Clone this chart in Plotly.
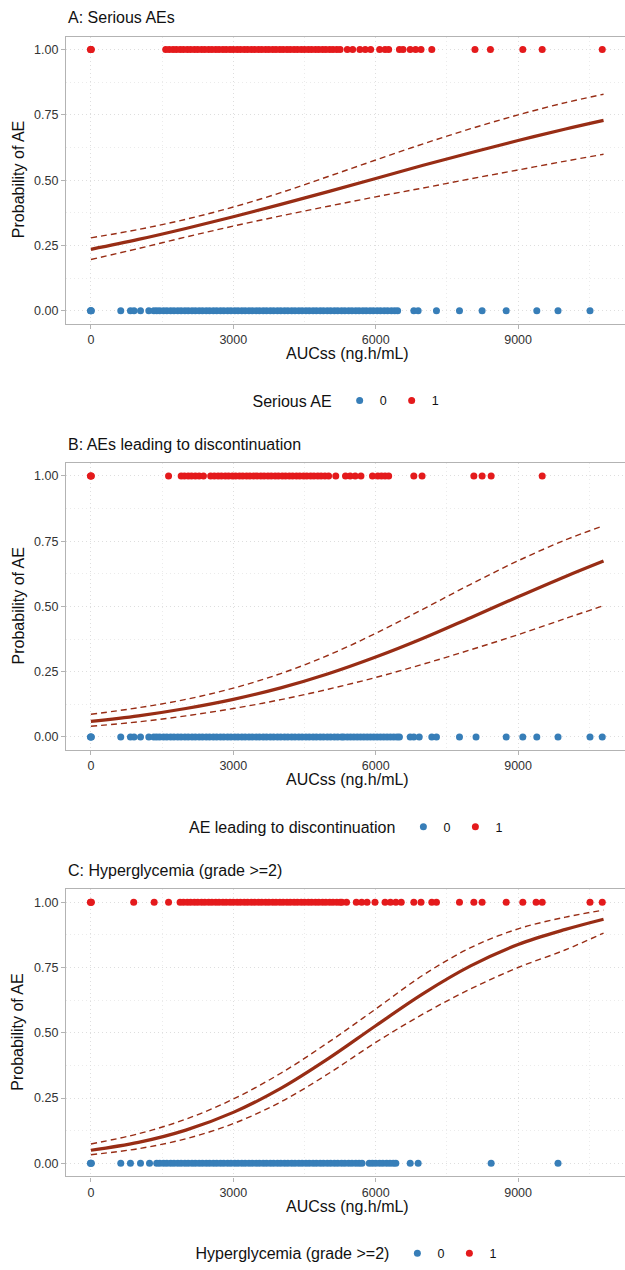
import plotly.graph_objects as go

# ---------------- data ----------------
curve_x = [0, 1000, 2000, 3000, 4000, 5000, 6000, 7000, 8000, 9000, 10000, 10800]

a_fit = [0.235, 0.273, 0.315, 0.360, 0.407, 0.456, 0.506, 0.557, 0.605, 0.652, 0.696, 0.729]
a_upper = [0.279, 0.311, 0.350, 0.397, 0.452, 0.514, 0.577, 0.639, 0.697, 0.750, 0.797, 0.829]
a_lower = [0.196, 0.238, 0.282, 0.324, 0.363, 0.400, 0.436, 0.470, 0.505, 0.539, 0.573, 0.599]

b_fit = [0.060, 0.081, 0.109, 0.144, 0.188, 0.242, 0.306, 0.378, 0.457, 0.537, 0.615, 0.674]
b_upper = [0.087, 0.112, 0.144, 0.187, 0.243, 0.313, 0.397, 0.490, 0.585, 0.675, 0.755, 0.809]
b_lower = [0.041, 0.058, 0.081, 0.109, 0.143, 0.183, 0.228, 0.279, 0.334, 0.392, 0.454, 0.503]

c_fit = [0.050, 0.080, 0.127, 0.195, 0.287, 0.401, 0.527, 0.650, 0.756, 0.838, 0.896, 0.935]
c_upper = [0.074, 0.113, 0.169, 0.246, 0.345, 0.463, 0.591, 0.721, 0.826, 0.898, 0.943, 0.970]
c_lower = [0.033, 0.056, 0.094, 0.152, 0.235, 0.343, 0.463, 0.572, 0.668, 0.750, 0.818, 0.882]

a_x_event0 = [-10, 0, 10, 629, 833, 909, 1045, 1220, 1326,
              1386, 1450, 1530, 1600, 1680, 1750, 1830, 1900, 1980, 2050, 2130, 2200, 2280, 2350,
              2430, 2500, 2580, 2650, 2730, 2800, 2880, 2950, 3030, 3100, 3180, 3250, 3330, 3400,
              3480, 3550, 3630, 3700, 3780, 3850, 3930, 4000, 4080, 4150, 4230, 4300, 4380, 4450,
              4530, 4600, 4680, 4750, 4830, 4900, 4980, 5050, 5130, 5200, 5280, 5350, 5430, 5500,
              5580, 5650, 5730, 5800, 5880, 5950, 6030, 6100, 6180, 6250, 6330, 6400, 6462,
              6803, 6894, 7280, 7765, 8242, 8750, 9394, 9841, 10515]
a_x_event1 = [-10, 0, 10, 1576, 1650, 1730, 1800, 1880, 1950, 2030, 2100, 2180, 2250, 2330, 2400, 2480,
              2550, 2630, 2700, 2780, 2850, 2930, 3000, 3080, 3150, 3230, 3300, 3380, 3450, 3530,
              3600, 3680, 3750, 3830, 3900, 3980, 4050, 4130, 4200, 4280, 4350, 4430, 4500, 4580,
              4650, 4730, 4800, 4880, 4950, 5030, 5100, 5180, 5250,
              5402, 5515, 5667, 5780, 5894, 6083, 6197, 6273, 6500, 6576, 6727, 6841, 6955, 7182,
              8091, 8417, 9099, 9508, 10773]

b_x_event0 = [-10, 0, 10, 629, 833, 909, 1045, 1220, 1326,
              1386, 1450, 1530, 1600, 1680, 1750, 1830, 1900, 1980, 2050, 2130, 2200, 2280, 2350,
              2430, 2500, 2580, 2650, 2730, 2800, 2880, 2950, 3030, 3100, 3180, 3250, 3330, 3400,
              3480, 3550, 3630, 3700, 3780, 3850, 3930, 4000, 4080, 4150, 4230, 4300, 4380, 4450,
              4530, 4600, 4680, 4750, 4830, 4900, 4980, 5050, 5130, 5200, 5280, 5326, 5402, 5470,
              5540, 5610, 5680, 5750, 5820, 5890, 5960, 6030, 6100, 6170, 6240, 6310, 6380, 6450, 6500,
              6727, 6803, 6917, 7182, 7280, 7765, 8114, 8750, 9099, 9394, 9841, 10515, 10773]
b_x_event1 = [-10, 0, 10, 1636, 1902, 1970, 2050, 2120, 2200, 2280, 2371, 2523, 2600, 2680, 2750, 2830,
              2900, 2980, 3050, 3130, 3200, 3280, 3350, 3430, 3500, 3580, 3650, 3730, 3800, 3880,
              3950, 4030, 4100, 4180, 4250, 4330, 4400, 4480, 4550, 4630, 4700, 4780, 4850, 4930,
              5008, 5159, 5364, 5462, 5568, 5689, 5932, 6045, 6121, 6197, 6273, 6803, 6977,
              8068, 8242, 8432, 9508]

c_x_event0 = [-10, 0, 10, 629, 833, 1045, 1235,
              1386, 1450, 1530, 1600, 1680, 1750, 1830, 1900, 1980, 2050, 2130, 2200, 2280, 2350,
              2430, 2500, 2580, 2650, 2730, 2800, 2880, 2950, 3030, 3100, 3180, 3250, 3330, 3400,
              3480, 3550, 3630, 3700, 3780, 3850, 3930, 4000, 4080, 4150, 4230, 4300, 4380, 4450,
              4530, 4600, 4680, 4750, 4830, 4900, 4980, 5050, 5130, 5200, 5280, 5350, 5430, 5500,
              5580, 5650, 5712, 5864, 5930, 6000, 6080, 6150, 6230, 6300, 6370, 6424,
              6727, 6894, 8432, 9841]
c_x_event1 = [-10, 0, 10, 902, 1333, 1636, 1879, 1950, 2030, 2100, 2180, 2250, 2330, 2400, 2480, 2550,
              2630, 2700, 2780, 2850, 2930, 3000, 3080, 3150, 3230, 3300, 3380, 3450, 3530, 3600,
              3680, 3750, 3830, 3900, 3980, 4050, 4130, 4200, 4280, 4350, 4430, 4500, 4580, 4650,
              4730, 4800, 4880, 4950, 5030, 5100, 5180, 5250, 5288,
              5386, 5591, 5705, 5818, 5985, 6197, 6311, 6424, 6538, 6803, 6955, 7182, 7280, 7765,
              8068, 8242, 8750, 9099, 9379, 9508, 10515, 10773]

panel_titles = ["A: Serious AEs", "B: AEs leading to discontinuation", "C: Hyperglycemia (grade >=2)"]
legend_titles = ["Serious AE", "AE leading to discontinuation", "Hyperglycemia (grade >=2)"]
x_ticks = [0, 3000, 6000, 9000]
y_ticks = [0, 0.25, 0.5, 0.75, 1.0]
y_ticktext = ["0.00", "0.25", "0.50", "0.75", "1.00"]
x_title = "AUCss (ng.h/mL)"
y_title = "Probability of AE"

# ---------------- styling ----------------
W, H = 625, 1270
BLUE, RED, LINE = "#377EB8", "#E41A1C", "#982D15"
GRID, AXIS, TXT = "#DEDEDE", "#B3B3B3", "#333333"
FONT = "Liberation Sans, Arial, sans-serif"

panels = [
    dict(fit=a_fit, up=a_upper, lo=a_lower, e0=a_x_event0, e1=a_x_event1),
    dict(fit=b_fit, up=b_upper, lo=b_lower, e0=b_x_event0, e1=b_x_event1),
    dict(fit=c_fit, up=c_upper, lo=c_lower, e0=c_x_event0, e1=c_x_event1),
]

x_left_px, x_right_px = 66, 625
x0_px, px_per_unit = 90.9, 142.4 / 3000.0
x_range = [(x_left_px - x0_px) / px_per_unit, (x_right_px - x0_px) / px_per_unit]
panel_step = 428
top0, bot0 = 36.7, 325.0

fig = go.Figure()
annotations = []
layout = {}
for i, p in enumerate(panels):
    k = "" if i == 0 else str(i + 1)
    xa, ya = "x" + k, "y" + k
    leg = "legend" + k
    top = top0 + i * panel_step
    bot = bot0 + i * panel_step
    fig.add_trace(go.Scatter(x=p["e0"], y=[0] * len(p["e0"]), mode="markers", name="0",
                             marker=dict(color=BLUE, size=7), xaxis=xa, yaxis=ya, legend=leg,
                             cliponaxis=False))
    fig.add_trace(go.Scatter(x=p["e1"], y=[1] * len(p["e1"]), mode="markers", name="1",
                             marker=dict(color=RED, size=7), xaxis=xa, yaxis=ya, legend=leg,
                             cliponaxis=False))
    for key, w, dash in (("up", 1.4, "6px,4px"), ("lo", 1.4, "6px,4px"), ("fit", 3.2, "solid")):
        fig.add_trace(go.Scatter(x=curve_x, y=p[key], mode="lines", showlegend=False,
                                 line=dict(color=LINE, width=w, dash=dash, shape="spline"),
                                 xaxis=xa, yaxis=ya, hoverinfo="skip"))
    dom_y = [1 - bot / H, 1 - top / H]
    layout["xaxis" + k] = dict(
        domain=[x_left_px / W, 1], range=x_range, anchor=ya,
        tickvals=x_ticks, ticks="outside", ticklen=4, tickcolor=AXIS, tickwidth=1,
        tickfont=dict(size=12.5, color=TXT, family=FONT),
        showline=True, linecolor=AXIS, linewidth=1.3, mirror=True,
        showgrid=True, gridcolor=GRID, gridwidth=1, griddash="1px,3px", zeroline=False,
        minor=dict(dtick=1500, tick0=0, showgrid=True, gridcolor="#EBEBEB", griddash="1px,3px", ticks=""),
    )
    layout["yaxis" + k] = dict(
        domain=dom_y, range=[-0.05, 1.05], anchor=xa,
        tickvals=y_ticks, ticktext=y_ticktext, ticks="outside", ticklen=4, tickcolor=AXIS,
        tickfont=dict(size=12.5, color=TXT, family=FONT),
        showline=True, linecolor=AXIS, linewidth=1.3, mirror=False,
        showgrid=True, gridcolor=GRID, gridwidth=1, griddash="1px,3px", zeroline=False,
        minor=dict(dtick=0.125, tick0=0, showgrid=True, gridcolor="#EBEBEB", griddash="1px,3px", ticks=""),
    )
    layout[leg] = dict(
        orientation="h", x=347.5 / W, xanchor="center", y=1 - (403 + i * panel_step) / H,
        yanchor="middle", title=dict(text=legend_titles[i], side="left",
                                     font=dict(size=16, color="#111", family=FONT)),
        font=dict(size=12.5, color="#111", family=FONT), itemwidth=30,
        bgcolor="rgba(0,0,0,0)", tracegroupgap=0,
    )
    annotations.append(dict(text=panel_titles[i], x=x_left_px / W, y=1 - (18 + i * panel_step) / H,
                            xref="paper", yref="paper", xanchor="left", yanchor="middle",
                            showarrow=False, font=dict(size=16, color="#111", family=FONT)))
    annotations.append(dict(text=x_title, x=347.5 / W, y=1 - (355 + i * panel_step) / H,
                            xref="paper", yref="paper", xanchor="center", yanchor="middle",
                            showarrow=False, font=dict(size=16, color="#111", family=FONT)))
    annotations.append(dict(text=y_title, x=18 / W, y=1 - ((top + bot) / 2) / H, textangle=-90,
                            xref="paper", yref="paper", xanchor="center", yanchor="middle",
                            showarrow=False, font=dict(size=16, color="#111", family=FONT)))

fig.update_layout(
    width=W, height=H, margin=dict(l=0, r=0, t=0, b=0),
    paper_bgcolor="white", plot_bgcolor="white",
    font=dict(family=FONT, color="#111"),
    annotations=annotations, hovermode=False,
    **layout,
)

fig.write_html("out.html")
